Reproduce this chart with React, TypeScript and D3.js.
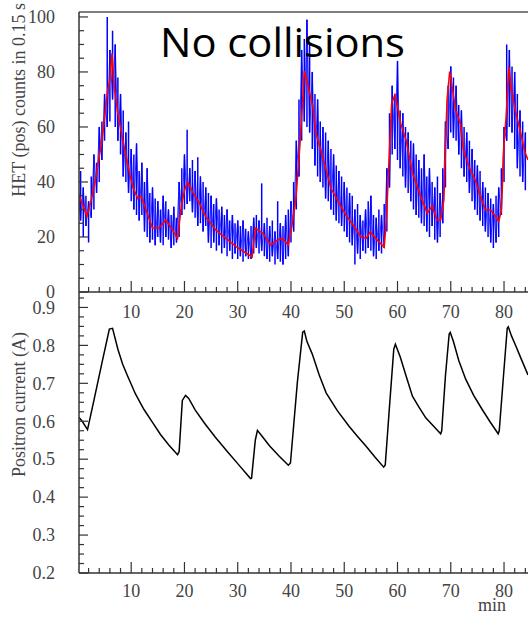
import React from "react";
import * as d3 from "d3";

// ---------- data ----------
// Blue: HET(pos) counts, sampled every 0.5 min, low/high of the error bars
const blueStart = 0;
const blueStep = 0.5;
const blueLo = [
  22, 26, 20, 24, 18, 27, 30, 36, 40, 48,
  55, 60, 62, 70, 60, 55, 50, 42, 40, 36,
  33, 30, 28, 26, 28, 22, 20, 18, 19, 17,
  20, 18, 17, 20, 19, 16, 17, 18, 20, 28,
  30, 32, 33, 29, 27, 24, 25, 22, 24, 18,
  16, 18, 15, 17, 14, 16, 13, 15, 12, 14,
  12, 13, 11, 13, 12, 12, 14, 16, 14, 15,
  13, 12, 11, 13, 10, 12, 11, 10, 12, 13,
  18, 22, 30, 42, 55, 62, 60, 58, 52, 46,
  42, 40, 38, 34, 33, 30, 28, 26, 25, 24,
  22, 20, 18, 17, 10, 14, 12, 15, 14, 16,
  15, 13, 12, 15, 14, 16, 22, 38, 50, 52,
  48, 45, 42, 38, 36, 33, 30, 28, 27, 25,
  24, 22, 20, 24, 19, 18, 20, 25, 38, 52,
  58, 56, 55, 50, 45, 42, 40, 36, 33, 30,
  28, 26, 24, 22, 20, 18, 16, 18, 20, 28,
  40, 55, 60, 58, 52, 45, 42, 40, 37,
];
const blueHi = [
  40, 44, 38, 35, 33, 42, 50, 47, 60, 62,
  72, 100, 88, 95, 90, 78, 72, 66, 58, 62,
  52, 50, 54, 44, 47, 40, 45, 36, 38, 34,
  33, 30, 35, 33, 30, 28, 31, 27, 40, 45,
  50, 59, 45, 48, 44, 49, 42, 40, 38, 36,
  35, 32, 34, 30, 31, 28, 30, 26, 28, 25,
  26, 24, 26, 23, 22, 24, 27, 28, 26, 39.5,
  25, 27, 24, 26, 22, 33, 25, 24, 28, 30,
  33, 40, 55, 70, 88, 92, 99, 90, 80, 72,
  70, 62, 60, 58, 55, 52, 50, 46, 44, 42,
  40, 38, 36, 35, 30, 32, 28, 26, 30, 33,
  35, 28, 27, 30, 28, 32, 45, 65, 75, 72,
  84, 66, 65, 60, 58, 55, 54, 50, 48, 45,
  50, 42, 45, 40, 38, 42, 36, 45, 62, 75,
  82, 78, 75, 68, 66, 60, 58, 55, 52, 48,
  46, 44, 40, 38, 36, 34, 32, 35, 38, 45,
  60, 90, 88, 82, 80, 72, 66, 62, 58,
];

// Red: smoothed counts
const redT = [
  0.3, 1.7, 2.5, 3.4, 4.4, 4.8, 5.6, 6.0, 6.4, 6.8, 7.5, 8.4, 9.3, 10.3, 11.2, 11.9,
  12.8, 14.0, 15.3, 16.5, 17.8, 18.7, 19.4, 20.0, 20.6, 21.5, 22.8, 24.0, 25.9, 27.8,
  29.7, 31.6, 32.7, 33.3, 34.7, 36.2, 37.5, 38.4, 39.5, 40.3, 40.9, 41.6, 42.2, 42.5,
  43.1, 44.1, 44.7, 45.6, 46.6, 47.5, 48.7, 50.3, 51.9, 53.1, 54.1, 54.9, 55.9, 57.5,
  57.9, 58.4, 58.9, 59.5, 60.0, 60.6, 61.6, 62.8, 64.6, 65.6, 66.5, 67.4, 68.1, 68.7,
  69.0, 69.3, 69.8, 70.2, 70.9, 71.8, 72.4, 73.4, 74.6, 75.6, 76.5, 77.5, 78.4, 79.0,
  79.5, 80.0, 80.4, 80.9, 81.3, 82.1, 83.0, 83.9, 84.5,
];
const redV = [
  34.7, 27.6, 33.5, 42, 54, 60, 73.5, 77, 86.8, 74.7, 65, 55.3, 46.8, 38.3, 34, 34.7,
  29.8, 23.2, 23.4, 26.2, 22.5, 19.5, 31, 37, 40, 36.5, 32.3, 27.4, 22.5, 19.5,
  16.5, 14.1, 12.8, 23.2, 21.3, 17.1, 18.9, 19.5, 17.1, 25.6, 33.5, 51.6, 69.8, 80.4,
  75.9, 67.4, 57.7, 51.6, 44.4, 37.7, 33.5, 28, 23.7, 20.1, 19.5, 21.9, 19.5, 16.3,
  26.2, 47.4, 68.6, 71.6, 67.4, 61.3, 55.3, 43.3, 33.5, 28.6, 31.3, 26.2, 26.2, 33.5,
  51.6, 69.8, 80.1, 75.3, 66.2, 61.3, 51.6, 45.6, 40.7, 34.7, 29.8, 29.8, 27.4, 25.6,
  29.8, 54.1, 63.8, 82, 74.7, 66.2, 58.9, 51, 48,
];

// Black: positron current (A)
const curT = [
  0.2, 0.8, 1.8, 3.0, 4.6, 5.9, 6.5, 7.5, 8.4, 9.3, 10.8, 12.4, 14.0, 15.5, 17.1, 18.7,
  19.0, 19.6, 20.2, 20.8, 22.0, 23.7, 25.8, 28.0, 30.2, 32.4, 32.6, 33.3, 33.7, 34.5,
  36.0, 37.8, 39.5, 39.9, 41.2, 42.2, 42.5, 43.0, 44.0, 45.3, 46.6, 48.7, 50.9, 52.5,
  54.1, 55.8, 57.4, 57.7, 58.5, 59.3, 59.6, 60.5, 61.6, 62.8, 64.0, 65.3, 66.7, 68.1,
  68.3, 69.0, 69.7, 69.9, 70.5, 71.5, 72.8, 74.3, 75.9, 77.4, 78.9, 79.1, 79.9, 80.6,
  80.8, 81.4, 82.2, 83.2, 84.5,
];
const curV = [
  0.61, 0.60, 0.578, 0.655, 0.76, 0.843, 0.845, 0.79, 0.75, 0.72, 0.672, 0.631, 0.597, 0.565, 0.537, 0.512,
  0.52, 0.655, 0.668, 0.66, 0.63, 0.596, 0.558, 0.521, 0.485, 0.449, 0.45, 0.55, 0.576, 0.562,
  0.535, 0.508, 0.484, 0.49, 0.703, 0.835, 0.838, 0.81, 0.777, 0.722, 0.675, 0.628, 0.587, 0.56,
  0.534, 0.505, 0.479, 0.485, 0.64, 0.79, 0.803, 0.77, 0.72, 0.666, 0.638, 0.609, 0.588, 0.567,
  0.575, 0.72, 0.83, 0.834, 0.81, 0.76, 0.711, 0.668, 0.631, 0.598, 0.567, 0.575, 0.72, 0.845,
  0.849, 0.825, 0.799, 0.765, 0.722,
];

const xTickLabels = [10, 20, 30, 40, 50, 60, 70, 80];
const topYTickLabels = [0, 20, 40, 60, 80, 100];
const botYTickLabels = [0.2, 0.3, 0.4, 0.5, 0.6, 0.7, 0.8, 0.9];

const title = "No collisions";
const topYTitle = "HET (pos) counts in 0.15 s";
const botYTitle = "Positron current (A)";
const xTitle = "min";

// ---------- layout ----------
const W = 528;
const H = 619;
const left = 79;
const right = 528;
const topTop = 12;
const topBottom = 292;
const botTop = 292;
const botBottom = 573;

const serif = "'Liberation Serif', 'DejaVu Serif', serif";
const labelColor = "#444";
const axisColor = "#333";

export default function App() {
  const x = d3.scaleLinear().domain([0.2, 84.5]).range([left, right]);
  const yTop = d3.scaleLinear().domain([0, 101.8]).range([topBottom, topTop]);
  const yBot = d3.scaleLinear().domain([0.2, 0.9407]).range([botBottom, botTop]);

  const blueT = blueLo.map((_, i) => blueStart + i * blueStep);

  const redLine = d3
    .line<number>()
    .x((_, i) => x(redT[i]))
    .y((d) => yTop(d));
  const curLine = d3
    .line<number>()
    .x((_, i) => x(curT[i]))
    .y((d) => yBot(d));
  // zig-zag between the error-bar ends of neighbouring samples
  const blueZig = d3
    .line<number>()
    .x((_, i) => x(blueT[i]))
    .y((_, i) => yTop(i % 2 === 0 ? blueHi[i] : blueLo[i]));

  const xMinor = d3.range(2, 85, 2).filter((v) => v % 10 !== 0);
  const topYMinor = d3.range(0, 101, 5).filter((v) => v % 20 !== 0);
  const botYMinor = d3
    .range(0, 30)
    .map((i) => 0.2 + i * 0.025)
    .filter((v) => v <= 0.94 && Math.abs(v * 10 - Math.round(v * 10)) > 0.01);

  const xAxis = (yLine: number) => (
    <g>
      <line x1={left} x2={right} y1={yLine} y2={yLine} stroke={axisColor} strokeWidth={1.5} />
      {xTickLabels.map((t) => (
        <line key={"M" + t} x1={x(t)} x2={x(t)} y1={yLine} y2={yLine - 11} stroke={axisColor} strokeWidth={1.2} />
      ))}
      {xMinor.map((t) => (
        <line key={"m" + t} x1={x(t)} x2={x(t)} y1={yLine} y2={yLine - 5} stroke={axisColor} strokeWidth={1.2} />
      ))}
    </g>
  );

  return (
    <svg
      width={W}
      height={H}
      style={{ position: "absolute", left: 0, top: 0, background: "#fff" }}
    >
      <defs>
        <clipPath id="plotTop">
          <rect x={left} y={0} width={right - left} height={topBottom} />
        </clipPath>
        <clipPath id="plotBot">
          <rect x={left} y={botTop} width={right - left} height={botBottom - botTop} />
        </clipPath>
      </defs>

      {/* Top panel data */}
      <g clipPath="url(#plotTop)">
        <path d={blueZig(blueLo) || ""} fill="none" stroke="#0000ff" strokeWidth={0.8} />
        {blueLo.map((lo, i) => (
          <line
            key={i}
            x1={x(blueT[i])}
            x2={x(blueT[i])}
            y1={yTop(lo)}
            y2={yTop(blueHi[i])}
            stroke="#0000ff"
            strokeWidth={1.5}
          />
        ))}
        <path d={redLine(redV) || ""} fill="none" stroke="#ff0000" strokeWidth={1.6} />
      </g>

      {/* Bottom panel data */}
      <g clipPath="url(#plotBot)">
        <path d={curLine(curV) || ""} fill="none" stroke="#000" strokeWidth={1.5} />
      </g>

      {/* Top frame line */}
      <line x1={left} x2={right} y1={topTop} y2={topTop} stroke="#555" strokeWidth={1.5} />

      {/* Top panel axes */}
      <line x1={left} x2={left} y1={topTop} y2={topBottom} stroke={axisColor} strokeWidth={1.5} />
      {topYTickLabels.map((v) => (
        <g key={"ty" + v}>
          <line x1={left} x2={left + 9} y1={yTop(v)} y2={yTop(v)} stroke={axisColor} strokeWidth={1.2} />
          <text
            x={55}
            y={yTop(v)}
            dy="0.35em"
            textAnchor="end"
            fontFamily={serif}
            fontSize={18}
            fill={labelColor}
          >
            {v}
          </text>
        </g>
      ))}
      {topYMinor.map((v) => (
        <line key={"tym" + v} x1={left} x2={left + 5} y1={yTop(v)} y2={yTop(v)} stroke={axisColor} strokeWidth={1.2} />
      ))}
      {xAxis(topBottom)}
      {xTickLabels.map((t) => (
        <text
          key={"tx" + t}
          x={x(t)}
          y={318}
          textAnchor="middle"
          fontFamily={serif}
          fontSize={18}
          fill={labelColor}
        >
          {t}
        </text>
      ))}

      {/* Bottom panel axes */}
      <line x1={left} x2={left} y1={botTop} y2={botBottom} stroke={axisColor} strokeWidth={1.5} />
      {botYTickLabels.map((v) => (
        <g key={"by" + v}>
          <line x1={left} x2={left + 9} y1={yBot(v)} y2={yBot(v)} stroke={axisColor} strokeWidth={1.2} />
          <text
            x={55}
            y={yBot(v)}
            dy="0.35em"
            textAnchor="end"
            fontFamily={serif}
            fontSize={18}
            fill={labelColor}
          >
            {v.toFixed(1)}
          </text>
        </g>
      ))}
      {botYMinor.map((v, i) => (
        <line key={"bym" + i} x1={left} x2={left + 5} y1={yBot(v)} y2={yBot(v)} stroke={axisColor} strokeWidth={1.2} />
      ))}
      {xAxis(botBottom)}
      {xTickLabels.map((t) => (
        <text
          key={"bx" + t}
          x={x(t)}
          y={597}
          textAnchor="middle"
          fontFamily={serif}
          fontSize={18}
          fill={labelColor}
        >
          {t}
        </text>
      ))}
      <text x={492} y={611} textAnchor="middle" fontFamily={serif} fontSize={18} fill={labelColor}>
        {xTitle}
      </text>

      {/* Axis titles */}
      <text
        transform="translate(25,3) rotate(-90)"
        textAnchor="end"
        fontFamily={serif}
        fontSize={18}
        fill={labelColor}
      >
        {topYTitle}
      </text>
      <text
        transform="translate(25,332) rotate(-90)"
        textAnchor="end"
        fontFamily={serif}
        fontSize={18}
        fill={labelColor}
      >
        {botYTitle}
      </text>

      {/* Title */}
      <text
        x={160}
        y={57}
        fontFamily="'Open Sans', 'Noto Sans', sans-serif"
        fontSize={40}
        textLength={245}
        lengthAdjust="spacingAndGlyphs"
        fill="#000"
      >
        {title}
      </text>
    </svg>
  );
}
